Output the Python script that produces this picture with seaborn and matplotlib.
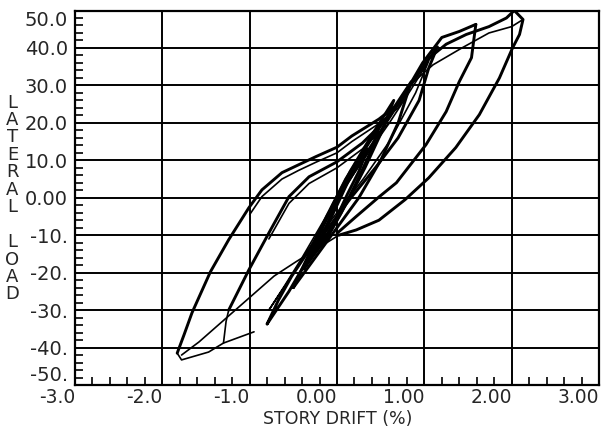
import numpy as np
import pandas as pd
import matplotlib
matplotlib.use("Agg")
import matplotlib.pyplot as plt
import seaborn as sns
from matplotlib.ticker import MultipleLocator, FixedLocator, FixedFormatter

# axis tick labels, as printed on the original plot
x_ticks = [-3, -2, -1, 0, 1, 2, 3]
x_labels = ["-3.0", "-2.0", "-1.0", "0.00", "1.00", "2.00", "3.00"]
y_ticks = [-50, -40, -30, -20, -10, 0, 10, 20, 30, 40, 50]
y_labels = ["-50.", "-40.", "-30.", "-20.", "-10.", "0.00", "10.0", "20.0", "30.0", "40.0", "50.0"]

# story drift (%) / lateral load
# small cycles in the core
c1_x = [-0.25, -0.12, 0.00, 0.12, 0.25, 0.35, 0.25, 0.12, 0.00, -0.12, -0.25]
c1_y = [-14.0, -8.0, -2.0, 4.0, 9.0, 13.0, 7.0, 1.0, -5.0, -10.0, -14.0]
c2_x = [-0.30, -0.15, 0.00, 0.15, 0.32, 0.50, 0.38, 0.22, 0.05, -0.12, -0.30]
c2_y = [-16.0, -9.0, -1.0, 6.0, 13.0, 20.0, 12.0, 4.0, -4.0, -11.0, -16.0]
c3_x = [-0.38, -0.22, -0.05, 0.15, 0.38, 0.65, 0.50, 0.32, 0.12, -0.10, -0.38]
c3_y = [-19.0, -11.0, -2.0, 7.0, 16.0, 26.0, 17.0, 8.0, -1.0, -10.0, -19.0]
c4_x = [-0.50, -0.32, -0.12, 0.10, 0.40, 0.65, 0.85, 0.70, 0.50, 0.25, 0.00, -0.25, -0.50]
c4_y = [-24.0, -15.0, -5.0, 5.0, 16.0, 24.0, 31.0, 20.0, 10.0, 0.0, -8.0, -16.0, -24.0]

# cycles to about +1.1 / -0.8
c5_x = [-0.80, -0.67, -0.52, -0.32, -0.13, 0.00, 0.20, 0.45, 0.70, 0.90, 1.05, 1.15,
        1.05, 0.94, 0.70, 0.45, 0.17, -0.10, -0.32, -0.55, -0.80]
c5_y = [-33.7, -27.3, -21.0, -14.0, -6.0, -0.5, 7.0, 16.0, 25.0, 32.0, 37.0, 40.3,
        34.6, 26.0, 16.0, 8.3, 0.3, -8.0, -15.8, -25.0, -33.7]
c6_x = [-0.78, -0.60, -0.40, -0.20, 0.00, 0.30, 0.60, 0.85, 1.05,
        0.90, 0.60, 0.30, 0.00, -0.30, -0.55, -0.78]
c6_y = [-30.0, -23.5, -16.0, -8.0, 0.0, 10.0, 20.0, 29.0, 36.5,
        28.0, 15.0, 5.0, -4.0, -13.0, -22.0, -30.0]

# cycle to about +1.6 / -1.3
mid_asc_x = [-1.24, -1.01, -0.78, -0.55, -0.32, 0.00, 0.29, 0.60, 0.83, 0.98, 1.20, 1.40, 1.59]
mid_asc_y = [-30.0, -19.3, -9.4, 0.3, 5.6, 9.6, 14.6, 21.7, 30.0, 36.0, 42.8, 44.4, 46.3]
mid_asc2_x = [-0.78, -0.55, -0.32, 0.00, 0.29, 0.60]
mid_asc2_y = [-11.0, -1.5, 3.8, 8.0, 13.0, 20.0]
mid_desc_x = [1.59, 1.57, 1.54, 1.40, 1.25, 1.02, 0.83, 0.68, 0.48, 0.22, 0.00]
mid_desc_y = [46.3, 42.8, 37.4, 31.0, 23.0, 14.2, 8.5, 4.0, 0.2, -5.0, -9.5]
mid_tail_x = [-1.30, -1.27, -1.24]
mid_tail_y = [-38.8, -33.0, -30.0]

# cycle to about +2.1 / -1.8
big_asc_x = [-1.83, -1.75, -1.66, -1.45, -1.24, -1.01, -0.86, -0.63, -0.44, -0.24, 0.00,
             0.17, 0.48, 0.70, 0.83, 1.06, 1.25, 1.48, 1.74, 1.94, 2.03]
big_asc_y = [-41.5, -36.5, -30.7, -19.8, -11.2, -2.7, 2.1, 6.7, 8.8, 11.0, 13.5,
             16.5, 21.0, 25.0, 30.0, 37.4, 41.0, 43.6, 45.7, 48.0, 50.0]
big_asc2_x = [-1.00, -0.86, -0.63, -0.44, -0.24, 0.00, 0.17, 0.48, 0.70, 0.83]
big_asc2_y = [-4.5, 0.3, 5.0, 7.3, 9.5, 12.0, 15.0, 19.8, 24.0, 29.0]
big_asc3_x = [0.83, 1.10, 1.43, 1.74, 2.00, 2.13]
big_asc3_y = [30.0, 35.5, 40.0, 44.0, 45.7, 47.6]
big_desc_x = [2.03, 2.13, 2.09, 2.01, 1.86, 1.63, 1.36, 1.05, 0.78, 0.48, 0.22, 0.02]
big_desc_y = [50.0, 47.6, 43.6, 40.0, 32.0, 22.2, 13.4, 5.3, -0.5, -6.0, -8.6, -10.0]
drop_x = [0.02, -0.47, -0.72, -1.58, -1.78]
drop_y = [-10.0, -17.1, -20.9, -38.5, -42.0]
low_x = [-1.83, -1.78, -1.47, -1.30, -0.95]
low_y = [-41.5, -43.3, -41.2, -38.8, -35.8]

thick = {"c1": (c1_x, c1_y), "c2": (c2_x, c2_y), "c3": (c3_x, c3_y), "c4": (c4_x, c4_y),
         "c5": (c5_x, c5_y), "mid_asc": (mid_asc_x, mid_asc_y), "mid_desc": (mid_desc_x, mid_desc_y),
         "big_asc": (big_asc_x, big_asc_y), "big_desc": (big_desc_x, big_desc_y)}
thin = {"c6": (c6_x, c6_y), "mid_asc2": (mid_asc2_x, mid_asc2_y), "mid_tail": (mid_tail_x, mid_tail_y),
        "big_asc2": (big_asc2_x, big_asc2_y), "big_asc3": (big_asc3_x, big_asc3_y),
        "drop": (drop_x, drop_y), "low": (low_x, low_y)}


def to_frame(branches):
    parts = []
    for name, (xs, ys) in branches.items():
        parts.append(pd.DataFrame({"drift": xs, "load": ys, "branch": name}))
    return pd.concat(parts, ignore_index=True)


sns.set_style("ticks")
plt.rcParams["font.family"] = ["DejaVu Sans"]

fig = plt.figure(figsize=(6.02, 4.28), dpi=100)
ax = fig.add_axes([75 / 602, 1 - 385 / 428, 524 / 602, 374.5 / 428])

for branches, lw in [(thin, 1.2), (thick, 2.1)]:
    df = to_frame(branches)
    sns.lineplot(data=df, x="drift", y="load", units="branch", estimator=None, sort=False,
                 color="black", lw=lw, ax=ax, legend=False)

ax.set_xlim(-3, 3)
ax.set_ylim(-50, 50)

ax.xaxis.set_major_locator(FixedLocator(x_ticks))
ax.xaxis.set_major_formatter(FixedFormatter(x_labels))
ax.yaxis.set_major_locator(FixedLocator(y_ticks))
ax.yaxis.set_major_formatter(FixedFormatter(y_labels))
ax.xaxis.set_minor_locator(MultipleLocator(0.2))
ax.yaxis.set_minor_locator(MultipleLocator(2))

ax.grid(True, which="major", color="black", lw=1.4)
ax.tick_params(axis="y", which="major", length=0, labelsize=14, pad=5)
ax.tick_params(axis="x", which="major", length=0, labelsize=13.5, pad=2)
ax.tick_params(which="minor", direction="in", length=6, width=1.2, color="black")
for s in ax.spines.values():
    s.set_linewidth(1.6)
    s.set_color("black")

for lab in ax.get_xticklabels():
    lab.set_ha("right")
ylabs = ax.get_yticklabels()
ylabs[0].set_va("bottom")
ylabs[-1].set_va("top")

ax.set_xlabel("")
ax.set_ylabel("")
fig.text(338 / 602, 0.5 / 428, "STORY DRIFT (%)", ha="center", va="bottom", fontsize=12.5)
fig.text(12.5 / 602, 1 - 198.5 / 428, "L\nA\nT\nE\nR\nA\nL\n\nL\nO\nA\nD",
         ha="center", va="center", fontsize=13, linespacing=0.96)

fig.savefig("out.png", dpi=100)
